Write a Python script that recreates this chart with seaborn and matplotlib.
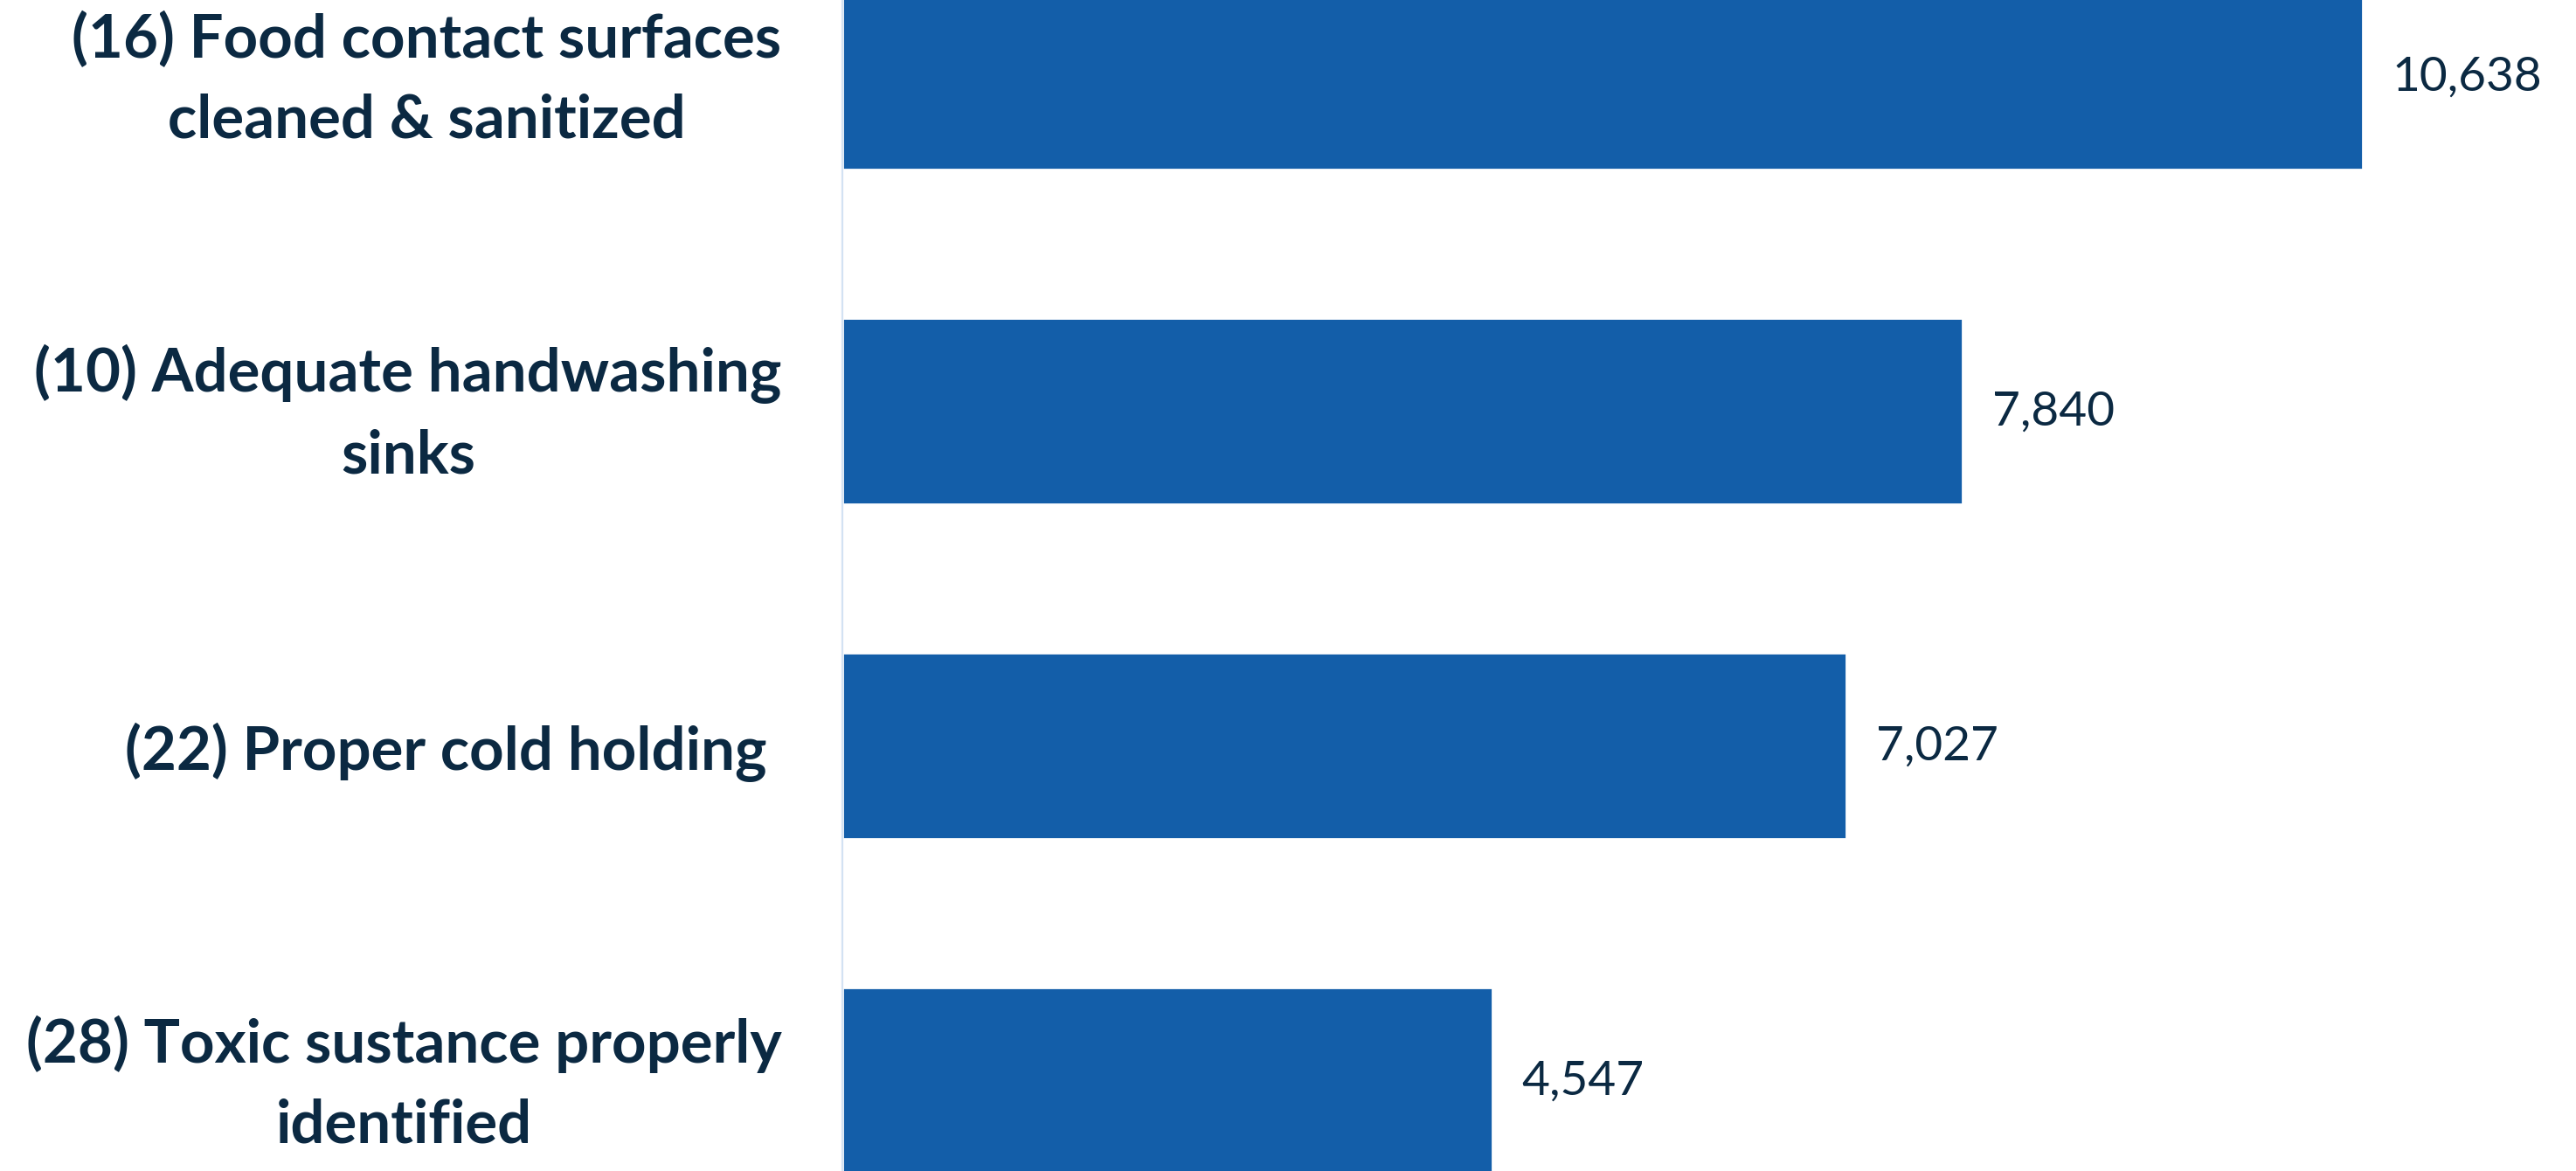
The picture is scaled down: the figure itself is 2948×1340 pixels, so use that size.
import matplotlib
matplotlib.use("Agg")
import matplotlib.pyplot as plt
import matplotlib.transforms as mtransforms
import seaborn as sns
import pandas as pd

categories = [
    "(16) Food contact surfaces\ncleaned & sanitized",
    "(10) Adequate handwashing\nsinks",
    "(22) Proper cold holding ",
    "(28) Toxic sustance properly\nidentified",
]
values = [10638, 7840, 7027, 4547]

BAR = "#135EA9"
TEXT = "#0B2942"

sns.set_theme(style="white")
plt.rcParams["font.family"] = ["Lato", "DejaVu Sans"]

df = pd.DataFrame({"label": categories, "value": values})

DPI = 200
fig = plt.figure(figsize=(14.74, 6.70), dpi=DPI)
ax = fig.add_axes([964 / 2948, 0, 1 - 964 / 2948, 1])
sns.barplot(data=df, x="value", y="label", color=BAR, width=0.556,
            saturation=1, ax=ax, orient="h")

ax.set_xlim(0, 12129)
ax.set_ylim(3.269, -0.229)
ax.set_xlabel("")
ax.set_ylabel("")
ax.set_xticks([])
for s in ["top", "right", "bottom"]:
    ax.spines[s].set_visible(False)
ax.spines["left"].set_color("#D3E2F3")
ax.spines["left"].set_linewidth(0.8)
ax.tick_params(axis="y", length=0, pad=25)

# fit label font size to reference text width
renderer = fig.canvas.get_renderer()
probe = fig.text(0, 0, "(16) Food contact surfaces", fontsize=30, fontweight="bold")
w = probe.get_window_extent(renderer).width
probe.remove()
label_size = 30 * 812 / w
probe = fig.text(0, 0, "10,638", fontsize=20)
w2 = probe.get_window_extent(renderer).width
probe.remove()
value_size = 20 * 172 / w2

size_px = label_size * DPI / 72
shift = mtransforms.ScaledTranslation(0, 17 / DPI, fig.dpi_scale_trans)
for t in ax.get_yticklabels():
    t.set_fontsize(label_size)
    t.set_fontweight("bold")
    t.set_color(TEXT)
    t.set_multialignment("center")
    t.set_linespacing(129 / (size_px * 1.2))
    if "\n" in t.get_text():
        t.set_transform(t.get_transform() + shift)

for c in ax.containers:
    ax.bar_label(c, labels=[f"{v:,}" for v in values], padding=12,
                 fontsize=value_size, color=TEXT)

fig.savefig("out.png", dpi=DPI)
